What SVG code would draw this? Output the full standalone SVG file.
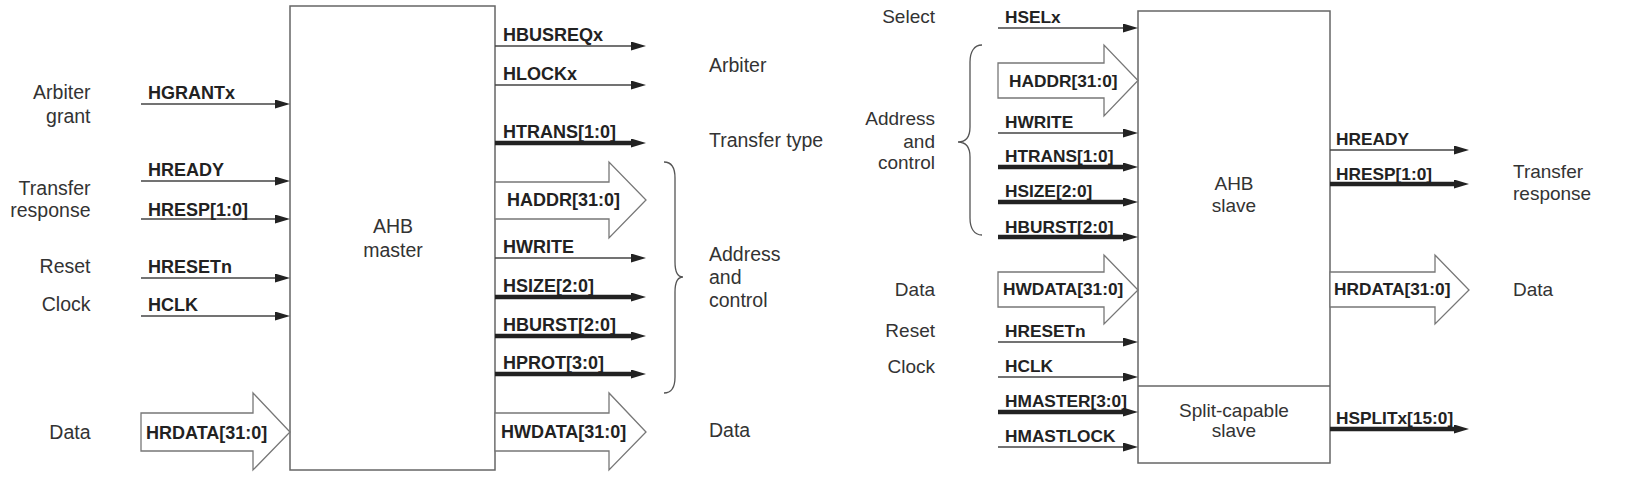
<svg xmlns="http://www.w3.org/2000/svg" width="1631" height="481" viewBox="0 0 1631 481">
<style>
.box{fill:#fff;stroke:#666;stroke-width:1.5}
.big{fill:#fff;stroke:#777;stroke-width:1.3;stroke-linejoin:miter}
.thin{stroke:#444;stroke-width:1.4;fill:none}
.thick{stroke:#222;stroke-width:4.5;fill:none}
.brace{fill:none;stroke:#555;stroke-width:1.3}
.sig{font-family:"Liberation Sans",Arial,sans-serif;font-weight:bold;fill:#222;font-size:18px}
.sigr{font-family:"Liberation Sans",Arial,sans-serif;font-weight:bold;fill:#222;font-size:17.3px}
.lbl{font-family:"Liberation Sans",Arial,sans-serif;fill:#333;font-size:19.5px}
.lblr{font-family:"Liberation Sans",Arial,sans-serif;fill:#333;font-size:19px}
.end{text-anchor:end}
.mid{text-anchor:middle}
</style>
<defs>
<marker id="ah" markerUnits="userSpaceOnUse" markerWidth="16" markerHeight="10" refX="5" refY="4.5" orient="auto">
<path d="M0,0 L15,4.5 L0,9 z" fill="#222"/>
</marker>
</defs>

<g id="master">
<rect class="box" x="290" y="6" width="205" height="464"/>
<text class="lbl mid" x="393" y="233">AHB</text>
<text class="lbl mid" x="393" y="257">master</text>
</g>

<g id="slave">
<rect class="box" x="1138" y="11" width="192" height="452"/>
<line class="box" x1="1138" y1="386" x2="1330" y2="386"/>
<text class="lblr mid" x="1234" y="190">AHB</text>
<text class="lblr mid" x="1234" y="212">slave</text>
</g>

<g id="split-capable">
<text class="lblr mid" x="1234" y="417">Split-capable</text>
<text class="lblr mid" x="1234" y="437">slave</text>
</g>

<g id="connectors">
<!-- master inputs -->
<line class="thin" x1="141" y1="104" x2="280" y2="104" marker-end="url(#ah)"/>
<line class="thin" x1="141" y1="181" x2="280" y2="181" marker-end="url(#ah)"/>
<line class="thin" x1="141" y1="219" x2="280" y2="219" marker-end="url(#ah)"/>
<line class="thin" x1="141" y1="278" x2="280" y2="278" marker-end="url(#ah)"/>
<line class="thin" x1="141" y1="316" x2="280" y2="316" marker-end="url(#ah)"/>
<polygon class="big" points="141,413 253,413 253,393 290,432 253,470 253,451 141,451"/>
<!-- master outputs -->
<line class="thin" x1="495" y1="46" x2="636" y2="46" marker-end="url(#ah)"/>
<line class="thin" x1="495" y1="85" x2="636" y2="85" marker-end="url(#ah)"/>
<line class="thick" x1="495" y1="143" x2="636" y2="143" marker-end="url(#ah)"/>
<polygon class="big" points="495,182 609,182 609,162 646,200 609,238 609,219 495,219"/>
<line class="thin" x1="495" y1="258" x2="636" y2="258" marker-end="url(#ah)"/>
<line class="thick" x1="495" y1="297" x2="636" y2="297" marker-end="url(#ah)"/>
<line class="thick" x1="495" y1="336" x2="636" y2="336" marker-end="url(#ah)"/>
<line class="thick" x1="495" y1="374" x2="636" y2="374" marker-end="url(#ah)"/>
<polygon class="big" points="495,413 609,413 609,393 646,432 609,470 609,451 495,451"/>
<path class="brace" d="M664,162 C672,162 675,168 675,178 L675,262 C675,272 677,277 683,277 C677,277 675,282 675,292 L675,377 C675,387 672,393 664,393"/>
<!-- slave inputs -->
<line class="thin" x1="998" y1="28" x2="1128" y2="28" marker-end="url(#ah)"/>
<polygon class="big" points="998,63 1104,63 1104,45 1138,80.5 1104,116 1104,98 998,98"/>
<line class="thin" x1="998" y1="133" x2="1128" y2="133" marker-end="url(#ah)"/>
<line class="thick" x1="998" y1="167" x2="1128" y2="167" marker-end="url(#ah)"/>
<line class="thick" x1="998" y1="202" x2="1128" y2="202" marker-end="url(#ah)"/>
<line class="thick" x1="998" y1="237" x2="1128" y2="237" marker-end="url(#ah)"/>
<polygon class="big" points="998,272 1104,272 1104,255 1138,290 1104,324 1104,307 998,307"/>
<line class="thin" x1="998" y1="342" x2="1128" y2="342" marker-end="url(#ah)"/>
<line class="thin" x1="998" y1="377" x2="1128" y2="377" marker-end="url(#ah)"/>
<line class="thick" x1="998" y1="412" x2="1128" y2="412" marker-end="url(#ah)"/>
<line class="thin" x1="998" y1="447" x2="1128" y2="447" marker-end="url(#ah)"/>
<path class="brace" d="M982,45 C974,45 970,52 970,62 L970,127 C970,137 966,142 958,142 C966,142 970,147 970,157 L970,218 C970,228 974,235 982,235"/>
<!-- slave outputs -->
<line class="thin" x1="1330" y1="150" x2="1459" y2="150" marker-end="url(#ah)"/>
<line class="thick" x1="1330" y1="184" x2="1459" y2="184" marker-end="url(#ah)"/>
<polygon class="big" points="1330,272 1435,272 1435,255 1469,290 1435,324 1435,307 1330,307"/>
<line class="thick" x1="1330" y1="429" x2="1459" y2="429" marker-end="url(#ah)"/>
</g>

<g id="master-labels">
<text class="lbl end" x="90.5" y="99">Arbiter</text>
<text class="lbl end" x="90.5" y="123">grant</text>
<text class="lbl end" x="90.5" y="195">Transfer</text>
<text class="lbl end" x="90.5" y="217">response</text>
<text class="lbl end" x="90.5" y="273">Reset</text>
<text class="lbl end" x="90.5" y="311">Clock</text>
<text class="lbl end" x="90.5" y="439">Data</text>
<text class="sig" x="148" y="99">HGRANTx</text>
<text class="sig" x="148" y="176">HREADY</text>
<text class="sig" x="148" y="216">HRESP[1:0]</text>
<text class="sig" x="148" y="273">HRESETn</text>
<text class="sig" x="148" y="311">HCLK</text>
<text class="sig" x="146" y="439">HRDATA[31:0]</text>
<text class="sig" x="503" y="41">HBUSREQx</text>
<text class="sig" x="503" y="80">HLOCKx</text>
<text class="sig" x="503" y="138">HTRANS[1:0]</text>
<text class="sig" x="507" y="206">HADDR[31:0]</text>
<text class="sig" x="503" y="253">HWRITE</text>
<text class="sig" x="503" y="292">HSIZE[2:0]</text>
<text class="sig" x="503" y="331">HBURST[2:0]</text>
<text class="sig" x="503" y="369">HPROT[3:0]</text>
<text class="sig" x="501" y="438">HWDATA[31:0]</text>
<text class="lbl" x="709" y="72">Arbiter</text>
<text class="lbl" x="709" y="147">Transfer type</text>
<text class="lbl" x="709" y="261">Address</text>
<text class="lbl" x="709" y="284">and</text>
<text class="lbl" x="709" y="307">control</text>
<text class="lbl" x="709" y="437">Data</text>
</g>

<g id="slave-labels">
<text class="lblr end" x="935" y="23">Select</text>
<text class="lblr end" x="935" y="125">Address</text>
<text class="lblr end" x="935" y="148">and</text>
<text class="lblr end" x="935" y="169">control</text>
<text class="lblr end" x="935" y="296">Data</text>
<text class="lblr end" x="935" y="337">Reset</text>
<text class="lblr end" x="935" y="373">Clock</text>
<text class="sigr" x="1005" y="23">HSELx</text>
<text class="sigr" x="1009" y="87">HADDR[31:0]</text>
<text class="sigr" x="1005" y="128">HWRITE</text>
<text class="sigr" x="1005" y="162">HTRANS[1:0]</text>
<text class="sigr" x="1005" y="197">HSIZE[2:0]</text>
<text class="sigr" x="1005" y="233">HBURST[2:0]</text>
<text class="sigr" x="1003" y="295">HWDATA[31:0]</text>
<text class="sigr" x="1005" y="337">HRESETn</text>
<text class="sigr" x="1005" y="372">HCLK</text>
<text class="sigr" x="1005" y="407">HMASTER[3:0]</text>
<text class="sigr" x="1005" y="442">HMASTLOCK</text>
<text class="sigr" x="1336" y="145">HREADY</text>
<text class="sigr" x="1336" y="180">HRESP[1:0]</text>
<text class="sigr" x="1334" y="295">HRDATA[31:0]</text>
<text class="sigr" x="1336" y="424">HSPLITx[15:0]</text>
<text class="lblr" x="1513" y="178">Transfer</text>
<text class="lblr" x="1513" y="200">response</text>
<text class="lblr" x="1513" y="296">Data</text>
</g>
</svg>
